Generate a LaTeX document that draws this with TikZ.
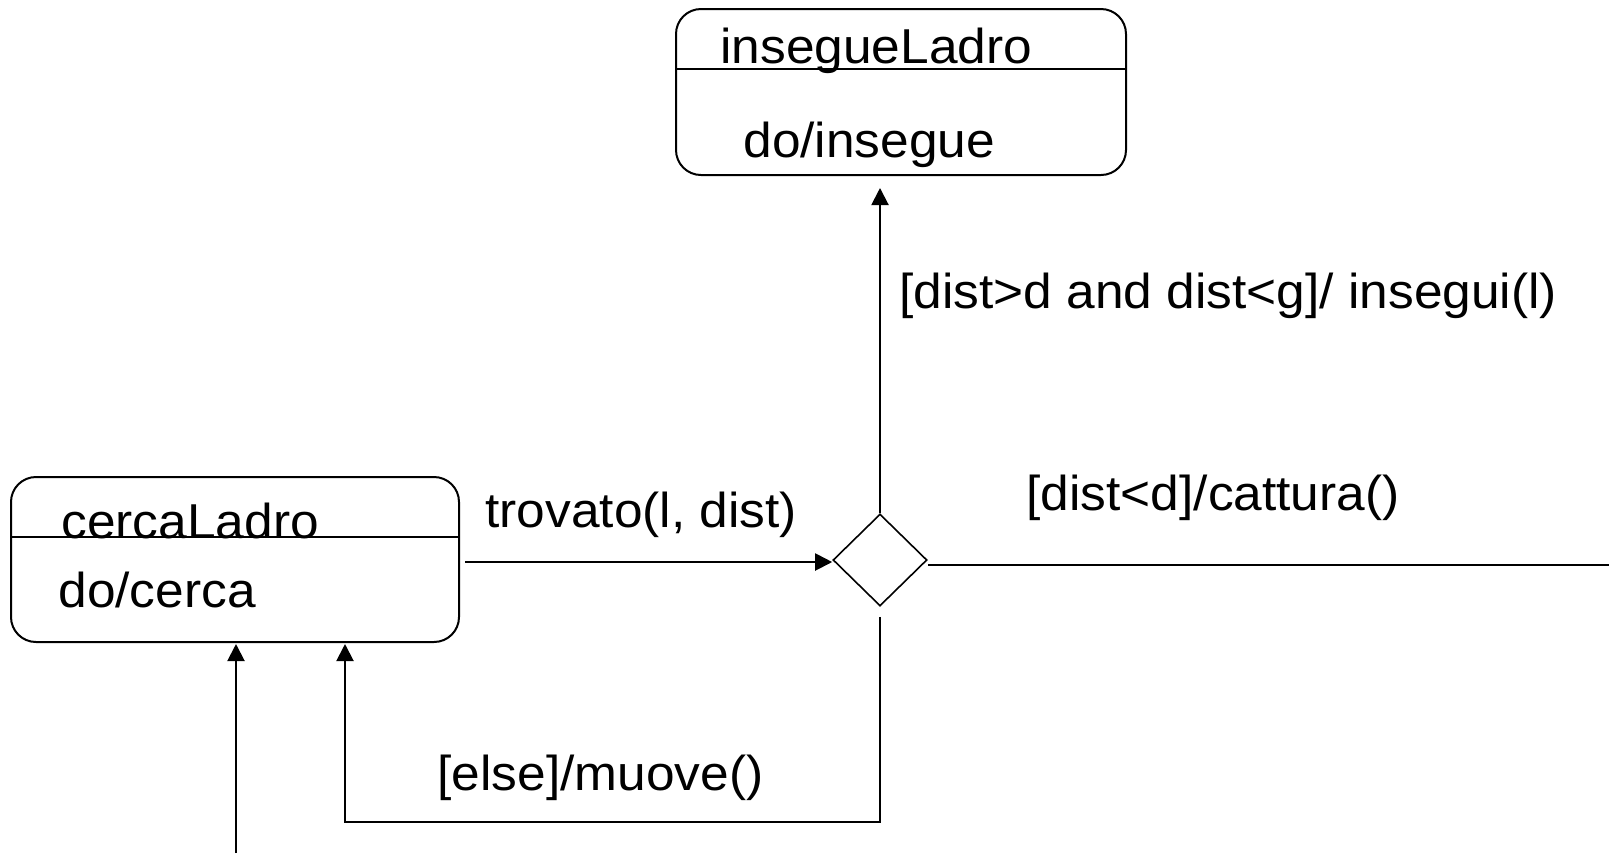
\documentclass[tikz,border=0pt]{standalone}
\usepackage{fontspec}
\setmainfont{Liberation Sans}[FakeStretch=1.05]
\usetikzlibrary{arrows.meta,shapes.geometric}
\tikzset{
	statebox/.style={draw, rounded corners=12.5pt, line width=1pt, inner sep=0pt},
	choice/.style={draw, diamond, aspect=1, line width=0.8pt, inner sep=0pt, minimum width=47pt, minimum height=46pt},
	arr/.style={line width=1pt, -{Triangle[length=8.5pt, width=8.5pt]}},
	lbl/.style={anchor=base west, inner sep=0pt, font=\fontsize{24.5pt}{29pt}\selectfont},
}

\begin{document}
\begin{tikzpicture}[x=0.5pt, y=-0.5pt]
			%%%%% START %%%%%
			\useasboundingbox (0, 0) rectangle (1609, 853);
			
			\node[statebox, minimum width=225pt, minimum height=83pt] (insegue) at (901, 92) {};
			\draw[line width=1pt] (insegue.west |- 0, 69) -- (insegue.east |- 0, 69);
			\node[lbl] (insname) at (720, 63) {insegueLadro};
			\node[lbl] (insdo) at (743, 157) {do/insegue};
			
			\node[statebox, minimum width=224pt, minimum height=82.5pt] (cerca) at (235, 559.5) {};
			\draw[line width=1pt] (cerca.west |- 0, 537) -- (cerca.east |- 0, 537);
			\node[lbl] (cercaname) at (61, 538) {cercaLadro};
			\node[lbl] (cercado) at (58, 607) {do/cerca};
			
			\node[choice] (dec) at (880, 560) {};
			
			\coordinate (exit) at (1609, 565);
			\coordinate (elsecorner) at (345, 822);
			\coordinate (entry) at (236, 853);
			
			\draw[arr] ([xshift=2.5pt]cerca.east |- 0, 562) -- (dec.west |- 0, 562);
			\node[lbl] (trovato) at (485, 527) {trovato(l, dist)};
			
			\draw[arr] (dec.north) -- ([yshift=-6pt]dec.north |- insegue.south);
			\node[lbl] (guardins) at (899, 308) {[dist>d and dist<g]/ insegui(l)};
			
			\draw[line width=1pt] (dec.east |- exit) -- (exit);
			\node[lbl] (guardcat) at (1026, 510) {[dist<d]/cattura()};
			
			\draw[arr] ([yshift=-5pt]dec.south) |- (elsecorner) -- ([yshift=-0.5pt]elsecorner |- cerca.south);
			\node[lbl] (guardelse) at (437, 790) {[else]/muove()};
			
			\draw[arr] (entry) -- ([yshift=-0.5pt]entry |- cerca.south);
			%%%%% END %%%%%
		\end{tikzpicture}
\end{document}
